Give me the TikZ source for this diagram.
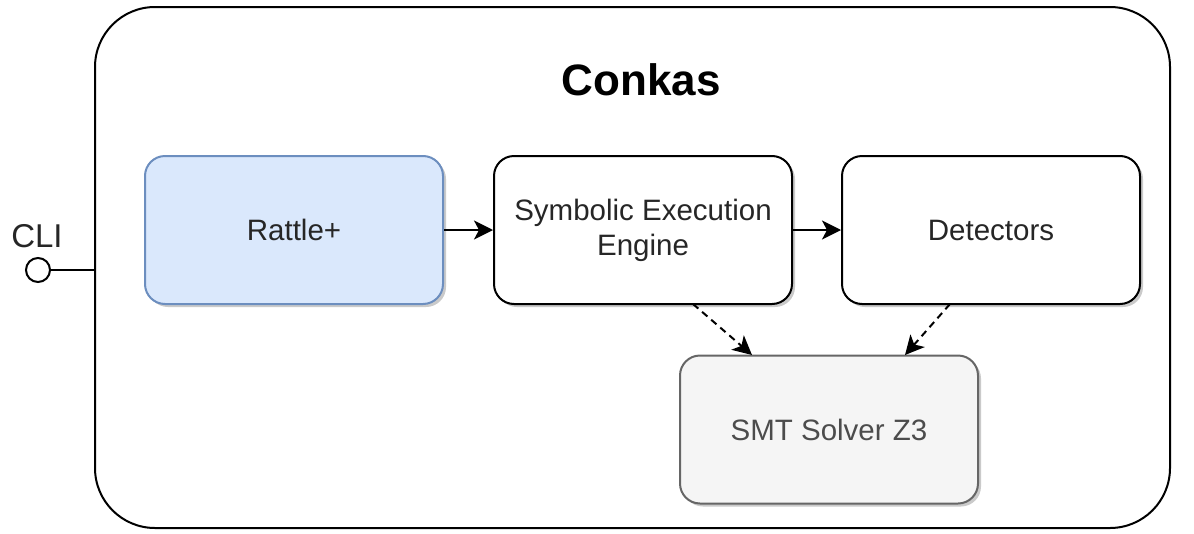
\documentclass[tikz,border=0pt]{standalone}
\usepackage{fontspec}
\setmainfont{Liberation Sans}
\usetikzlibrary{arrows.meta,shadows}
\begin{document}
\begin{tikzpicture}[x=1pt,y=-1pt,
  box/.style={draw=black, line width=2pt, rounded corners=20pt, minimum width=298pt, minimum height=148pt, fill=white, align=center, font=\fontsize{29.5}{35}\selectfont, text=black!85, drop shadow={shadow xshift=3pt, shadow yshift=-3pt, fill=black!35, opacity=0.6}},
  arr/.style={-{Stealth[length=19pt,width=19pt,inset=5pt]}, line width=2pt},
  darr/.style={-{Stealth[length=19pt,width=19pt,inset=5pt]}, line width=2pt, dash pattern=on 7pt off 5pt}]
\useasboundingbox (0,0) rectangle (1194,533);
\node[draw, line width=2pt, rounded corners=60pt, minimum width=1075pt, minimum height=521pt] (outer) at (632.5,267.5) {};
\node[font=\fontsize{44}{52}\selectfont\bfseries] (title) at (641,80) {Conkas};
\node[box, fill={rgb,255:red,218;green,232;blue,252}, draw={rgb,255:red,108;green,142;blue,191}] (rattle) at (294,230) {Rattle+};
\node[box] (see) at (643,230) {Symbolic Execution\\Engine};
\node[box] (det) at (991,230) {Detectors};
\node[box, fill={rgb,255:red,245;green,245;blue,245}, draw={rgb,255:red,102;green,102;blue,102}, text=black!70] (smt) at (829,429.5) {SMT Solver Z3};
\draw[arr] (rattle.east) -- (see.west);
\draw[arr] (see.east) -- (det.west);
\coordinate (s1) at (693,304);
\coordinate (s2) at (752,355);
\coordinate (d1) at (950,304);
\coordinate (d2) at (905,355);
\draw[darr] (s1) -- (s2);
\draw[darr] (d1) -- (d2);
\node[draw, circle, line width=2pt, minimum size=24pt, inner sep=0pt] (cli) at (38,270) {};
\coordinate (cliend) at (95,270);
\draw[line width=2pt] (cli.east) -- (cliend);
\node[font=\fontsize{33}{38}\selectfont, text=black!85] (clitext) at (37,236) {CLI};
\end{tikzpicture}
\end{document}
